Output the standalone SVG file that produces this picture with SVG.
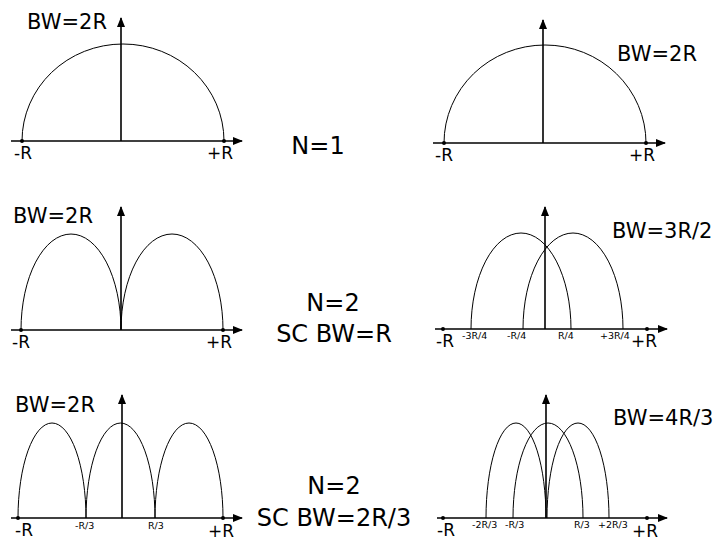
<svg xmlns="http://www.w3.org/2000/svg" width="716" height="541" viewBox="0 0 716 541">
<style>
.axis{stroke:#000;stroke-width:1.6;fill:none}
.curve{stroke:#000;stroke-width:1;fill:none}
text{font-family:"DejaVu Sans","Liberation Sans",sans-serif;fill:#000}
.lbl{font-size:21px}
.ctr{font-size:24px;text-anchor:middle}
.end{font-size:17px}
.sm{font-size:9.5px}
.dot{fill:#000}
</style>
<defs>
<marker id="arr" markerUnits="userSpaceOnUse" markerWidth="10" markerHeight="8" refX="9" refY="4" orient="auto">
<path d="M0,0 L10,4 L0,8 Z" fill="#000"/>
</marker>
</defs>
<rect width="716" height="541" fill="#fff"/>

<g id="connectors">
<!-- panel 1 axes -->
<line class="axis" x1="11" y1="141" x2="242" y2="141" marker-end="url(#arr)"/>
<line class="axis" x1="121" y1="141" x2="121" y2="18" marker-end="url(#arr)"/>
<!-- panel 2 -->
<line class="axis" x1="433" y1="143" x2="665" y2="143" marker-end="url(#arr)"/>
<line class="axis" x1="543" y1="143" x2="543" y2="20" marker-end="url(#arr)"/>
<!-- panel 3 -->
<line class="axis" x1="11" y1="330" x2="242" y2="330" marker-end="url(#arr)"/>
<line class="axis" x1="121" y1="330" x2="121" y2="207" marker-end="url(#arr)"/>
<!-- panel 4 -->
<line class="axis" x1="435" y1="329" x2="667" y2="329" marker-end="url(#arr)"/>
<line class="axis" x1="545" y1="329" x2="545" y2="207" marker-end="url(#arr)"/>
<!-- panel 5 -->
<line class="axis" x1="11" y1="518" x2="242" y2="518" marker-end="url(#arr)"/>
<line class="axis" x1="122" y1="518" x2="122" y2="395" marker-end="url(#arr)"/>
<!-- panel 6 -->
<line class="axis" x1="437" y1="518" x2="667" y2="518" marker-end="url(#arr)"/>
<line class="axis" x1="546" y1="518" x2="546" y2="395" marker-end="url(#arr)"/>
</g>

<g id="panel-1">
<path class="curve" d="M22,141 A101,97 0 0 1 224,141"/>
<circle class="dot" cx="22" cy="141" r="2"/>
<circle class="dot" cx="224" cy="141" r="2"/>
<text class="lbl" x="27" y="29">BW=2R</text>
<text class="end" x="14" y="159">-R</text>
<text class="end" x="207" y="159">+R</text>
</g>

<g id="panel-2">
<path class="curve" d="M444,143 A101,98 0 0 1 646,143"/>
<circle class="dot" cx="444" cy="143" r="2"/>
<circle class="dot" cx="646" cy="143" r="2"/>
<text class="lbl" x="617" y="61">BW=2R</text>
<text class="end" x="435" y="161">-R</text>
<text class="end" x="629" y="161">+R</text>
</g>

<g id="label-n1">
<text class="ctr" x="318" y="154">N=1</text>
</g>

<g id="panel-3">
<path class="curve" d="M21,330 A50,96 0 0 1 121,330"/>
<path class="curve" d="M121,330 A51,96 0 0 1 223,330"/>
<circle class="dot" cx="21" cy="330" r="2"/>
<circle class="dot" cx="223" cy="330" r="2"/>
<text class="lbl" x="13" y="223">BW=2R</text>
<text class="end" x="12" y="348">-R</text>
<text class="end" x="206" y="348">+R</text>
</g>

<g id="panel-4">
<path class="curve" d="M471,329 A50,96 0 0 1 571,329"/>
<path class="curve" d="M523,329 A50,96 0 0 1 623,329"/>
<circle class="dot" cx="443" cy="329" r="2"/>
<circle class="dot" cx="647" cy="329" r="2"/>
<text class="lbl" x="612" y="238">BW=3R/2</text>
<text class="end" x="436" y="347">-R</text>
<text class="end" x="631" y="347">+R</text>
<text class="sm" x="462" y="339">-3R/4</text>
<text class="sm" x="507" y="339">-R/4</text>
<text class="sm" x="558" y="339">R/4</text>
<text class="sm" x="600" y="339">+3R/4</text>
</g>

<g id="label-n2a">
<text class="ctr" x="333" y="311">N=2</text>
<text class="ctr" x="334" y="342">SC BW=R</text>
</g>

<g id="panel-5">
<path class="curve" d="M18,518 A34,95 0 0 1 86,518"/>
<path class="curve" d="M86,518 A34.5,95 0 0 1 155,518"/>
<path class="curve" d="M155,518 A34,95 0 0 1 223,518"/>
<circle class="dot" cx="18" cy="518" r="2"/>
<circle class="dot" cx="223" cy="518" r="2"/>
<text class="lbl" x="15" y="412">BW=2R</text>
<text class="end" x="15" y="536">-R</text>
<text class="end" x="208" y="537">+R</text>
<text class="sm" x="75" y="529">-R/3</text>
<text class="sm" x="148" y="529">R/3</text>
</g>

<g id="panel-6">
<path class="curve" d="M486,518 A30,95 0 0 1 546,518"/>
<path class="curve" d="M513,518 A35,95 0 0 1 583,518"/>
<path class="curve" d="M547,518 A31,95 0 0 1 609,518"/>
<circle class="dot" cx="443" cy="518" r="2"/>
<circle class="dot" cx="647" cy="518" r="2"/>
<text class="lbl" x="613" y="425">BW=4R/3</text>
<text class="end" x="437" y="536">-R</text>
<text class="end" x="632" y="537">+R</text>
<text class="sm" x="472" y="528">-2R/3</text>
<text class="sm" x="505" y="528">-R/3</text>
<text class="sm" x="574" y="528">R/3</text>
<text class="sm" x="598" y="528">+2R/3</text>
</g>

<g id="label-n2b">
<text class="ctr" x="334" y="494">N=2</text>
<text class="ctr" x="334" y="526">SC BW=2R/3</text>
</g>
</svg>
